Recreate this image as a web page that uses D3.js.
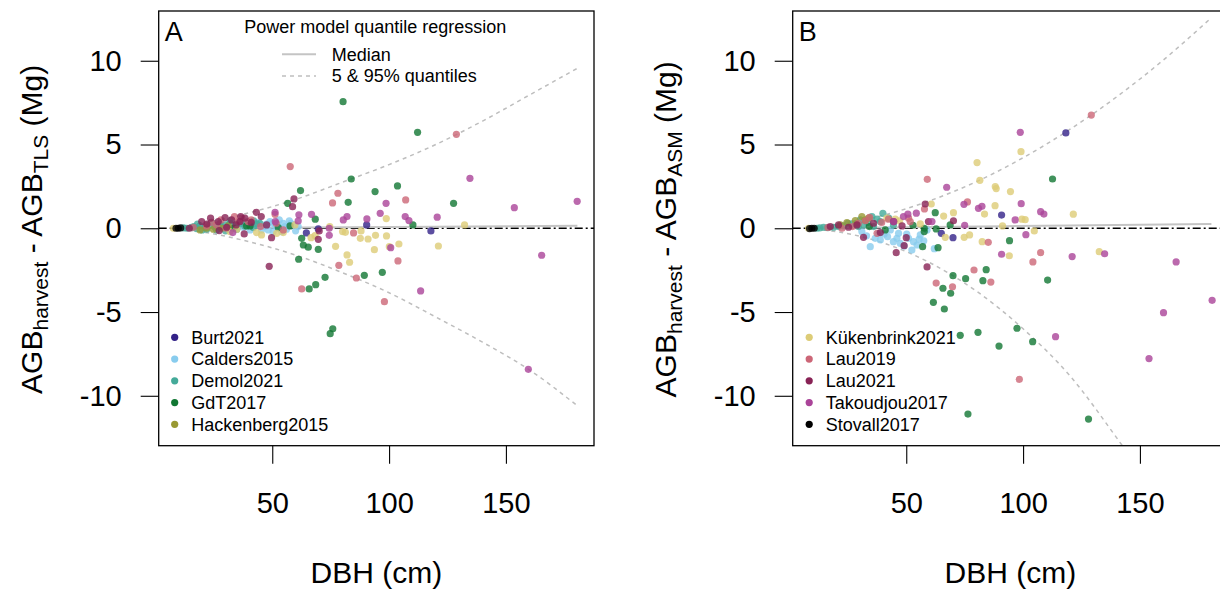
<!DOCTYPE html>
<html>
<head>
<meta charset="utf-8">
<script src="https://cdnjs.cloudflare.com/ajax/libs/d3/7.8.5/d3.min.js"></script>
<style>
  body { margin: 0; background: #fff; }
  svg { font-family: "Liberation Sans", Arial, sans-serif; }
</style>
</head>
<body>
<div id="chart"></div>
<script>
// dataset names and colours (legend order)
const datasetNames = ["Burt2021", "Calders2015", "Demol2021", "GdT2017", "Hackenberg2015",
    "Kükenbrink2021", "Lau2019", "Lau2021", "Takoudjou2017", "Stovall2017"];
const datasetColors = ["#332288", "#88CCEE", "#44AA99", "#117733", "#999933",
    "#DDCC77", "#CC6677", "#882255", "#AA4499", "#000000"];
const legendA = datasetNames.slice(0, 5);
const legendB = datasetNames.slice(5);

const xTicks = [50, 100, 150];
const yTicks = [-10, -5, 0, 5, 10];

// [DBH (cm), AGB difference (Mg)], panel A = TLS, panel B = ASM
const burtTLS = [[64.6,-0.28],[69.7,-0.04],[90.4,0.2],[117.9,-0.16]];
const burtASM = [[118.3,5.69],[90.8,0.79],[65,-0.3],[70,-0.56]];

const caldersTLS = [[37.6,0.06],[40.5,-0.1],[43.3,0.2],[45.4,-0.1],[46.9,0.1],[48.3,-0.1],[49.0,0.4],[50.4,-0.2],
    [52.6,0],[54.0,-0.2],[54.7,0.3],[56.1,-0.06],[57.3,0.44],[59.0,0.2],[61.1,0.1],[34,0.05],[31,0.1],[44,0.35],[51.5,0.15],
    [50,0.3],[53,0.5],[55.5,0.1],[58,0.3],[60,-0.15],[47.5,0.25],[41.5,0.3]];
const caldersASM = [[46,-0.6],[47.4,-0.9],[51,-0.6],[53.1,-0.8],[54.6,-1.0],[52.4,-1.3],[49.1,-1.06],[62,-1.22],
    [38.9,-0.7],[38.2,-0.3],[34.6,-1.1],[58.9,-0.1],[56,-0.4],[43.2,-0.1],[31,-0.2],[46.7,-0.3],[36.7,-0.6],[42,-0.5],[57.5,-0.75],
    [44.5,-0.8],[50.2,-0.35],[55.5,-0.65],[40.5,-0.35],[33,-0.45]];

const demolTLS = [[13.4,0],[15.5,0.06],[17.6,-0.02],[19.1,0.14],[21.2,0.04],[23.3,0.2],[25.5,0.06],[27.6,0.26],
    [29.8,0.2],[31.9,0.3],[34.0,0.1],[36.2,0.26],[38.3,0.14],[40.5,0.2],[43.3,0.26],[44.7,0.3],[26.2,-0.1],
    [34.8,-0.06],[41.9,0.04],[12,0.02],[16.5,0.1],[22,-0.05],[18,0.25],[24,0.35],[28,0.1],[32,0.45],[35,0.3],
    [39,0.35],[42,0.45],[20,-0.1],[30,-0.15]];
const demolASM = [[11.8,0],[14.6,0.06],[18.9,0.06],[23.2,0.14],[26.7,0.26],[30.3,0.5],[35.3,0.7],[40.0,0.89],
    [31.7,0.2],[36.0,0.1],[38.9,0.4],[13,0.02],[16.5,0.04],[21,0.1],[28.5,0.3],[33.5,0.35],[42.5,0.6],[44.5,0.2],
    [25,0.3],[29.5,0.1],[37.5,0.55]];

const gdtTLS = [[80.3,7.56],[112.2,5.73],[83.8,2.94],[62.1,2.25],[94.0,2.19],[103.6,2.53],[56.6,1.49],[82.5,1.55],
    [110.2,0.2],[127.6,1.49],[97.1,-2.63],[89.4,-2.81],[72.6,-2.93],[68.6,-3.37],[65.8,-3.62],[75.9,-6.0],
    [74.8,-6.29],[33.3,0],[39.0,0.14],[40.5,0.14],[52.6,0.04],[57.6,0.14],[62.6,-0.6],[63.3,-1.0],[65.4,-1.13],
    [69.7,-1.26],[68.4,0.54],[61.3,-1.85]];
const gdtASM = [[112.6,2.94],[62.4,0.93],[94.2,-0.74],[110.5,-3.09],[82.8,-3.13],[84.2,-2.47],[75.4,-3.01],
    [70,-2.83],[65.7,-3.58],[69,-3.88],[61.6,-4.42],[66.3,-4.82],[73.1,-6.39],[80.7,-6.21],[97.4,-5.97],
    [104.1,-6.77],[89.7,-7.03],[76.4,-11.09],[128,-11.39],[52.9,0.18],[57.7,0],[57,-1.1],[68.8,0.2],[62.8,-0.04],
    [63.6,-1.16],[34.2,0.1],[41,-0.1],[57.7,-0.2]];

const hackenbergTLS = [[19.1,-0.1],[24.8,-0.06],[28.3,0],[31.2,0.14],[21.9,0]];
const hackenbergASM = [[24.6,0.34],[28.2,0.46],[31.0,0.7],[32.5,0.5],[21.8,0.2],[33.9,0.6]];

const kukenbrinkTLS = [[7.7,0],[31.9,-0.2],[34.8,-0.06],[43.3,-0.26],[45.4,-0.4],[51.9,-0.3],[54.7,-0.26],[59.7,0.2],
    [66.6,-0.56],[68.3,-0.44],[74.6,0.1],[80.1,-0.2],[81.3,-0.24],[88,-0.16],[87.7,-0.6],[91,-0.64],[94.2,-0.42],
    [98.9,-0.46],[100.1,-1.1],[104.2,-0.94],[93.7,-1.28],[77.1,-1.08],[82,-1.59],[83.1,-2.03],[98.8,0.58],
    [121.1,-1.06],[132.3,0.2]];
const kukenbrinkASM = [[99.1,4.57],[80.3,3.92],[81.5,2.86],[88.1,2.49],[88.5,2.37],[94.6,2.19],[60.7,1.45],[66,0.73],
    [70.2,0.93],[83.5,0.85],[88,1.35],[99.5,0.54],[100.9,0.51],[121.5,0.84],[91.2,0.14],[104.8,-0.16],[82.5,-0.8],
    [94.1,-1.64],[132.6,-1.4],[41.7,0.6],[45.3,0.54],[47.1,0.45],[56,0.26],[66.7,-0.54],[74.8,-0.54],[77.1,-0.4],[8.2,0]];

const lau2019TLS = [[128.8,5.61],[57.7,3.68],[78.1,2.09],[75.8,1.51],[84.8,-0.28],[78.5,-2.21],[86,-2.97],[62.6,-3.62],
    [103.8,-1.95],[107.1,1.69],[98,-4.38],[16.2,0.06],[21.9,0.14],[26.2,0.2],[30.2,0],[33.8,0.7],[35.5,0.4],
    [39.7,0.4],[51.2,0.83],[51.7,0.3],[54.7,-0.1],[24,0.35],[28,0.5],[37,0.6],[41,0.5],[45,0.1]];
const lau2019ASM = [[129.2,6.76],[59,2.92],[57.8,1.15],[76.2,1.57],[85.1,-0.84],[107.5,-1.46],[104.2,-2.01],[86.2,-3.21],
    [79,-2.49],[62.8,-3.27],[69.8,-3.49],[98.4,-9.02],[51,0.6],[51.7,0.4],[37.5,-0.3],[22.5,0],[32.5,0.45],
    [34.3,0.65],[42.4,0.54],[16.5,0.05],[27,0.1],[29.5,0.3],[39.5,0.35]];

const lau2021TLS = [[19.8,0.4],[23.6,0.6],[27.3,-0.14],[29.8,0.64],[30.5,0.06],[32.6,0.5],[36.5,0.7],[38.0,-0.34],
    [38.3,0.6],[43.2,0.95],[45.3,0.7],[47.6,0.2],[49.7,-0.56],[59.3,1.75],[58.7,1.29],[69.7,-0.66],[70.1,-0.16],
    [14.5,0],[26.9,0.4],[36.2,0.4],[48.7,-2.27],[22,0.25],[34.5,0.2],[41,0.35]];
const lau2021ASM = [[31.7,-0.54],[50,-0.56],[49.1,-1.04],[45.7,-1.46],[58.1,1.45],[70.2,0.45],[59.5,0.4],[48.2,0.14],
    [44.6,0.4],[38.9,-0.26],[58.9,-2.31],[17.5,0.1],[21.0,0.2],[25.3,0.06],[28.9,0.2],[36,0.3]];

const takoudjouTLS = [[51.2,0.95],[51.3,0.4],[61.4,0.8],[61.1,0.44],[66.8,0.83],[74.4,0],[74.4,-0.42],[80.4,0.5],
    [82,0.7],[90.5,0.56],[98.7,1.49],[96.2,0.89],[106.9,0.7],[108.5,0.46],[120.6,0.66],[100.7,-1.16],[134.6,2.98],
    [153.6,1.23],[180.5,1.61],[165.3,-1.61],[113.5,-3.74],[159.6,-8.42],[33.1,-0.26]];
const takoudjouASM = [[98.8,5.73],[67.3,2.45],[74.7,1.43],[80.9,1.19],[82.4,1.31],[99.2,1.47],[96.6,0.5],[107.5,0.99],
    [108.9,0.85],[101.2,-0.38],[90.8,-1.55],[121,-1.69],[134.9,-1.52],[165.5,-2.01],[180.9,-4.3],[160.1,-5.04],
    [153.9,-7.78],[113.9,-6.47],[54.3,0.9],[50.7,0.84],[48.8,0.7],[44.6,0.4],[61,0.4],[75,0.18]];

const stovallTLS = [[8.8,0],[9.8,0],[10.8,0.02]];
const stovallASM = [[8.6,-0.02],[9.6,0],[10.6,0]];

const tlsSets = [burtTLS, caldersTLS, demolTLS, gdtTLS, hackenbergTLS, kukenbrinkTLS, lau2019TLS, lau2021TLS, takoudjouTLS, stovallTLS];
const asmSets = [burtASM, caldersASM, demolASM, gdtASM, hackenbergASM, kukenbrinkASM, lau2019ASM, lau2021ASM, takoudjouASM, stovallASM];

// power model quantile curves
const medianTLS = [[7.7,0],[60,0.04],[120,0.09],[180.6,0.15]];
const q05TLS = [[7.7,-0.05],[20,-0.22],[40,-0.8],[60,-1.6],[80,-2.65],[100,-3.85],[120,-5.3],[140,-6.8],[160,-8.45],[180.6,-10.6]];
const q95TLS = [[7.7,0.09],[20,0.31],[40,0.92],[60,1.72],[80,2.75],[100,3.8],[120,5.0],[140,6.4],[160,7.95],[180.6,9.55]];
const medianASM = [[7.7,0],[60,0.08],[120,0.16],[180.6,0.25]];
const q05ASM = [[7.7,-0.03],[20,-0.2],[40,-0.87],[60,-2.05],[80,-3.75],[100,-6.0],[120,-8.8],[140,-12.5],[160,-16.5]];
const q95ASM = [[7.7,0.04],[20,0.21],[40,0.77],[60,1.64],[80,2.78],[100,4.21],[120,5.9],[140,7.84],[160,10.04],[180.6,12.57]];

const width = 1220, height = 589;
const boxW = 435.3, boxH = 434.7, boxTop = 11;
const fontTick = 29, fontTitle = 30, fontLegend = 18;

const svg = d3.select("#chart").append("svg")
    .attr("width", width)
    .attr("height", height);

const x = d3.scaleLinear().domain([1.4, 187.7]).range([0, boxW]);
const y = d3.scaleLinear().domain([-12.98, 12.97]).range([boxH, 0]);

function drawPanel(left, letter, sets, median, q05, q95, sub, legendNames, legendOffset, idx) {
    const g = svg.append("g").attr("transform", `translate(${left},${boxTop})`);

    g.append("clipPath").attr("id", "clip" + idx)
        .append("rect").attr("width", boxW).attr("height", boxH);

    const plot = g.append("g").attr("clip-path", `url(#clip${idx})`);
    const line = d3.line().x(d => x(d[0])).y(d => y(d[1])).curve(d3.curveMonotoneX);

    // zero line
    plot.append("line")
        .attr("x1", 0).attr("x2", boxW)
        .attr("y1", y(0)).attr("y2", y(0))
        .attr("stroke", "#000").attr("stroke-width", 1.7)
        .attr("stroke-dasharray", "8,3,2,3");

    plot.append("path").attr("d", line(median))
        .attr("fill", "none").attr("stroke", "#c4c4c4").attr("stroke-width", 2);
    [q05, q95].forEach(q => {
        plot.append("path").attr("d", line(q))
            .attr("fill", "none").attr("stroke", "#bebebe").attr("stroke-width", 1.5)
            .attr("stroke-dasharray", "4,4");
    });

    // points
    sets.forEach((pts, i) => {
        plot.append("g").selectAll("circle")
            .data(pts)
            .join("circle")
            .attr("cx", d => x(d[0]))
            .attr("cy", d => y(d[1]))
            .attr("r", 3.6)
            .attr("fill", datasetColors[i])
            .attr("fill-opacity", 0.8);
    });

    // box
    g.append("rect").attr("width", boxW).attr("height", boxH)
        .attr("fill", "none").attr("stroke", "#000").attr("stroke-width", 1.3);

    // axes
    const yAxis = g.append("g")
        .call(d3.axisLeft(y).tickValues(yTicks).tickSize(18).tickPadding(19).tickFormat(d3.format("d")));
    const xAxis = g.append("g")
        .attr("transform", `translate(0,${boxH})`)
        .call(d3.axisBottom(x).tickValues(xTicks).tickSize(18).tickPadding(29));
    [yAxis, xAxis].forEach(a => {
        a.select(".domain").remove();
        a.selectAll("line").attr("stroke", "#000").attr("stroke-width", 1.1);
        a.selectAll("text").attr("font-size", fontTick).attr("fill", "#000")
            .attr("font-family", "'Liberation Sans', Arial, sans-serif");
    });
    yAxis.selectAll("text").text(d => d < 0 ? "-" + Math.abs(d) : d);

    // axis titles
    g.append("text")
        .attr("x", boxW / 2).attr("y", 572)
        .attr("text-anchor", "middle")
        .attr("font-size", fontTitle)
        .text("DBH (cm)");

    const yt = g.append("text")
        .attr("transform", `translate(${-116.7},${boxH / 2 + 1}) rotate(-90)`)
        .attr("text-anchor", "middle")
        .attr("font-size", fontTitle);
    yt.append("tspan").text("AGB");
    yt.append("tspan").attr("font-size", 21).attr("dy", 6).text("harvest");
    yt.append("tspan").attr("dy", -6).text(" - AGB");
    yt.append("tspan").attr("font-size", 21).attr("dy", 6).text(sub);
    yt.append("tspan").attr("dy", -6).text(" (Mg)");

    // panel letter
    g.append("text").attr("x", 6).attr("y", 29.5)
        .attr("font-size", 27).text(letter);

    // dataset legend
    const lg = g.append("g").attr("transform", `translate(${legendOffset},${337.3 - boxTop})`);
    legendNames.forEach((name, i) => {
        const row = lg.append("g").attr("transform", `translate(0,${i * 21.75})`);
        row.append("circle").attr("r", 3.6)
            .attr("fill", datasetColors[datasetNames.indexOf(name)]);
        row.append("text").attr("x", 16.5).attr("y", 6.4)
            .attr("font-size", fontLegend).text(name);
    });
    return g;
}

const gA = drawPanel(158.7, "A", tlsSets, medianTLS, q05TLS, q95TLS, "TLS", legendA, 16, 0);
drawPanel(792.7, "B", asmSets, medianASM, q05ASM, q95ASM, "ASM", legendB, 16.5, 1);

// quantile regression legend (panel A)
const ql = gA.append("g");
ql.append("text").attr("x", 375.3 - 158.7).attr("y", 33 - boxTop)
    .attr("text-anchor", "middle").attr("font-size", fontLegend)
    .text("Power model quantile regression");
ql.append("line").attr("x1", 282 - 158.7).attr("x2", 316 - 158.7)
    .attr("y1", 54.3 - boxTop).attr("y2", 54.3 - boxTop)
    .attr("stroke", "#c4c4c4").attr("stroke-width", 2);
ql.append("line").attr("x1", 282 - 158.7).attr("x2", 316 - 158.7)
    .attr("y1", 76 - boxTop).attr("y2", 76 - boxTop)
    .attr("stroke", "#bebebe").attr("stroke-width", 1.5).attr("stroke-dasharray", "4,4");
ql.append("text").attr("x", 331.7 - 158.7).attr("y", 54.3 - boxTop + 6.4)
    .attr("font-size", fontLegend).text("Median");
ql.append("text").attr("x", 331.7 - 158.7).attr("y", 76 - boxTop + 6.4)
    .attr("font-size", fontLegend).text("5 & 95% quantiles");
</script>
</body>
</html>
